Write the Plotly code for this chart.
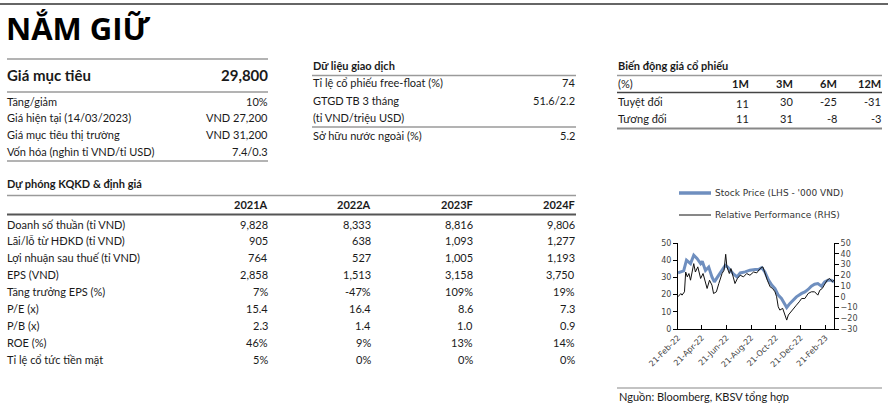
import plotly.graph_objects as go

W, H = 894, 407
FONT = "Lato"
TXT = "#1a1a1a"

# ---------------- data ----------------
title_text = "NẮM GIỮ"
target_label = "Giá mục tiêu"
target_value = "29,800"

summary_labels = ["Tăng/giảm", "Giá hiện tại (14/03/2023)", "Giá mục tiêu thị trường", "Vốn hóa (nghìn tỉ VND/tỉ USD)"]
summary_values = ["10%", "VND 27,200", "VND 31,200", "7.4/0.3"]

trading_title = "Dữ liệu giao dịch"
trading_labels = ["Tỉ lệ cổ phiếu free-float (%)", "GTGD TB 3 tháng", "(tỉ VND/triệu USD)", "Sở hữu nước ngoài (%)"]
trading_values = ["74", "51.6/2.2", "", "5.2"]

perf_title = "Biến động giá cổ phiếu"
perf_headers = ["(%)", "1M", "3M", "6M", "12M"]
perf_rows = ["Tuyệt đối", "Tương đối"]
perf_abs = ["11", "30", "-25", "-31"]
perf_rel = ["11", "31", "-8", "-3"]

fc_title = "Dự phóng KQKD & định giá"
fc_years = ["2021A", "2022A", "2023F", "2024F"]
fc_labels = ["Doanh số thuần (tỉ VND)", "Lãi/lỗ từ HĐKD (tỉ VND)", "Lợi nhuận sau thuế (tỉ VND)", "EPS (VND)",
             "Tăng trưởng EPS (%)", "P/E (x)", "P/B (x)", "ROE (%)", "Tỉ lệ cổ tức tiền mặt"]
fc_2021 = ["9,828", "905", "764", "2,858", "7%", "15.4", "2.3", "46%", "5%"]
fc_2022 = ["8,333", "638", "527", "1,513", "-47%", "16.4", "1.4", "9%", "0%"]
fc_2023 = ["8,816", "1,093", "1,005", "3,158", "109%", "8.6", "1.0", "13%", "0%"]
fc_2024 = ["9,806", "1,277", "1,193", "3,750", "19%", "7.3", "0.9", "14%", "0%"]

source_text = "Nguồn: Bloomberg, KBSV tổng hợp"

price_dates = ["2022-02-21", "2022-03-07", "2022-03-14", "2022-03-24", "2022-04-01", "2022-04-09", "2022-04-18",
               "2022-04-22", "2022-04-30", "2022-05-08", "2022-05-16", "2022-05-22", "2022-05-30", "2022-06-10",
               "2022-06-18", "2022-06-24", "2022-06-30", "2022-07-08", "2022-07-17", "2022-07-25", "2022-08-06",
               "2022-08-18", "2022-08-31", "2022-09-08", "2022-09-16", "2022-09-24", "2022-10-03", "2022-10-11",
               "2022-10-19", "2022-10-27", "2022-11-04", "2022-11-13", "2022-11-17", "2022-11-25", "2022-12-03",
               "2022-12-11", "2022-12-24", "2023-01-01", "2023-01-09", "2023-01-17", "2023-01-25", "2023-02-02",
               "2023-02-11", "2023-02-19", "2023-02-27", "2023-03-07", "2023-03-14"]
price_values = [32.6, 33.8, 40.0, 38.0, 42.9, 41.0, 38.0, 39.4, 34.0, 36.0, 30.3, 27.4, 30.3, 34.0,
                37.0, 36.0, 34.0, 32.0, 30.3, 32.6, 33.2, 34.2, 34.6, 34.6, 35.7, 33.2, 28.4, 25.5,
                23.5, 19.7, 17.8, 14.5, 12.5, 14.9, 16.8, 18.7, 20.7, 21.6, 23.0, 24.9, 26.0, 26.4,
                24.9, 27.4, 28.4, 28.4, 27.4]

rel_dates = ["2022-02-21", "2022-02-28", "2022-03-03", "2022-03-09", "2022-03-12", "2022-03-16", "2022-03-20",
             "2022-03-24", "2022-04-01", "2022-04-05", "2022-04-11", "2022-04-18", "2022-04-24", "2022-04-30",
             "2022-05-04", "2022-05-10", "2022-05-16", "2022-05-20", "2022-05-27", "2022-06-02", "2022-06-10",
             "2022-06-15", "2022-06-19", "2022-06-22", "2022-06-28", "2022-07-02", "2022-07-08", "2022-07-12",
             "2022-07-18", "2022-07-25", "2022-08-02", "2022-08-10", "2022-08-18", "2022-08-27", "2022-09-04",
             "2022-09-12", "2022-09-19", "2022-09-24", "2022-09-30", "2022-10-07", "2022-10-13", "2022-10-19",
             "2022-10-23", "2022-10-27", "2022-10-31", "2022-11-07", "2022-11-13", "2022-11-17", "2022-11-21",
             "2022-11-27", "2022-12-03", "2022-12-11", "2022-12-18", "2022-12-24", "2023-01-01", "2023-01-09",
             "2023-01-17", "2023-01-25", "2023-02-02", "2023-02-07", "2023-02-13", "2023-02-19", "2023-02-25",
             "2023-03-03", "2023-03-10", "2023-03-14"]
rel_values = [0.0, 3.0, 1.5, 4.6, 23.0, 18.5, 21.6, 15.4, 30.8, 23.0, 27.8, 17.0, 21.6, 12.3,
              7.7, 15.4, 10.8, 3.0, 4.6, 12.3, 21.6, 24.7, 39.5, 27.8, 21.6, 26.2, 18.5, 12.3,
              17.0, 20.0, 18.5, 21.6, 20.0, 23.0, 22.2, 26.2, 27.8, 21.6, 15.4, 9.2, 7.7, 4.6,
              0.0, -9.3, -12.4, -10.8, -18.6, -21.7, -17.0, -13.9, -10.8, -7.8, -4.7, -1.6, -1.6, 3.0,
              4.6, 4.6, 1.5, 6.1, 7.7, 12.3, 15.4, 17.0, 13.9, 15.4]

tick_dates = ["2022-02-21", "2022-04-21", "2022-06-21", "2022-08-21", "2022-10-21", "2022-12-21", "2023-02-21"]
tick_labels = ["21-Feb-22", "21-Apr-22", "21-Jun-22", "21-Aug-22", "21-Oct-22", "21-Dec-22", "21-Feb-23"]

legend_names = ["Stock Price (LHS - '000 VND)", "Relative Performance (RHS)"]

# ---------------- helpers ----------------
def px(x):
    return x / W

def py(y):
    return 1 - y / H

annotations = []
shapes = []

def text(x, y, s, anchor="left", size=11, bold=False, color=TXT, family=FONT):
    annotations.append(dict(
        xref="paper", yref="paper", x=px(x), y=py(y), text=s, showarrow=False,
        xanchor=anchor, yanchor="middle", borderpad=0,
        font=dict(family=family, size=size, color=color, weight=700 if bold else 400),
    ))

def hline(x0, x1, y, color="#9a9a9a", width=1.5):
    shapes.append(dict(type="line", xref="paper", yref="paper",
                       x0=px(x0), x1=px(x1), y0=py(y), y1=py(y),
                       line=dict(color=color, width=width)))

# ---------------- figure ----------------
fig = go.Figure()
fig.add_trace(go.Scatter(x=price_dates, y=price_values, mode="lines", name=legend_names[0],
                         line=dict(color="#6f8fbf", width=3), yaxis="y"))
fig.add_trace(go.Scatter(x=rel_dates, y=rel_values, mode="lines", name=legend_names[1],
                         line=dict(color="#111111", width=1), yaxis="y2"))

# header / title
hline(0, 888, 4, color="#333333", width=1.5)
text(5, 28, title_text, size=31, bold=True, color="#000000", family="Open Sans")

# Target price block
hline(7, 268, 59)
text(6, 75, target_label, size=15, bold=True)
text(269, 75, target_value, anchor="right", size=15, bold=True)
hline(7, 268, 92)
for i, (lab, val) in enumerate(zip(summary_labels, summary_values)):
    yy = 101 + i * 16.8
    text(6, yy, lab)
    text(269, yy, val, anchor="right")
hline(7, 268, 161)

# Trading data block
text(312, 65, trading_title, bold=True)
hline(312, 576, 75.5)
trading_y = [83, 100.5, 117.5, 135]
for lab, val, yy in zip(trading_labels, trading_values, trading_y):
    text(312, yy, lab)
    if val:
        text(576, yy, val, anchor="right")
hline(312, 576, 127)

# Price performance block
text(617, 65, perf_title, bold=True)
hline(617, 882, 75.5)
perf_x = [None, 750, 794, 838, 882]
text(617, 83.5, perf_headers[0])
for h, xx in zip(perf_headers[1:], perf_x[1:]):
    text(xx, 83.5, h, anchor="right", bold=True)
hline(617, 882, 92.5, color="#444444", width=1.5)
for r, (lab, vals) in enumerate(zip(perf_rows, [perf_abs, perf_rel])):
    yy = 101 + r * 17
    text(617, yy, lab)
    for j, (v, xx) in enumerate(zip(vals, perf_x[1:])):
        dy = 2.5 if (r == 0 and j == 0) else 0
        text(xx, yy + dy, v, anchor="right")
hline(617, 882, 128.5, color="#888888", width=2)

# Forecast block
text(6, 184, fc_title, bold=True)
hline(7, 576, 195.5)
col_x = [269, 372, 474, 576]
for yr, xx in zip(fc_years, col_x):
    text(xx, 204.5, yr, anchor="right", bold=True)
hline(7, 576, 214.5, color="#555555", width=2)
cols = [fc_2021, fc_2022, fc_2023, fc_2024]
for i, lab in enumerate(fc_labels):
    yy = 224 + i * 16.9
    text(6, yy, lab)
    for c, xx in zip(cols, col_x):
        text(xx, yy, c[i], anchor="right")

# chart legend (drawn)
shapes.append(dict(type="line", xref="paper", yref="paper", x0=px(679), x1=px(711), y0=py(193), y1=py(193),
                   line=dict(color="#6f8fbf", width=3.5)))
shapes.append(dict(type="line", xref="paper", yref="paper", x0=px(679), x1=px(711), y0=py(215), y1=py(215),
                   line=dict(color="#111111", width=1)))
text(714, 193, legend_names[0], size=9, color="#333333", family="DejaVu Sans")
text(714, 215, legend_names[1], size=9, color="#333333", family="DejaVu Sans")

# source
hline(617, 882, 388, color="#888888", width=1.2)
text(618, 396, source_text, size=11)

TICKFONT = dict(family="DejaVu Sans", size=8, color="#444444")
axis_common = dict(showgrid=False, zeroline=False, showline=True, linecolor="#000000", linewidth=1,
                   ticks="outside", ticklen=4, tickcolor="#000000", automargin=False,
                   tickfont=TICKFONT)

fig.update_layout(
    template="none",
    width=W, height=H, margin=dict(l=0, r=0, t=0, b=0, pad=0, autoexpand=False),
    paper_bgcolor="white", plot_bgcolor="white", showlegend=False,
    xaxis=dict(domain=[px(678), px(834)], type="date", range=["2022-02-21", "2023-03-14"],
               tickvals=tick_dates, ticktext=tick_labels, tickangle=-45, automargin=False,
               showgrid=False, zeroline=False, showline=True, linecolor="#000000", linewidth=1,
               ticks="inside", ticklen=4, tickcolor="#000000", tickfont=TICKFONT),
    yaxis=dict(domain=[py(329), py(243)], range=[0, 50], dtick=10, side="left", **axis_common),
    yaxis2=dict(range=[-30, 50], dtick=10, overlaying="y", side="right", anchor="x", **axis_common),
    annotations=annotations, shapes=shapes,
)

fig.write_html("out.html", config={"displayModeBar": False},
               post_script="document.body.style.margin='0';document.body.style.overflow='hidden';")
